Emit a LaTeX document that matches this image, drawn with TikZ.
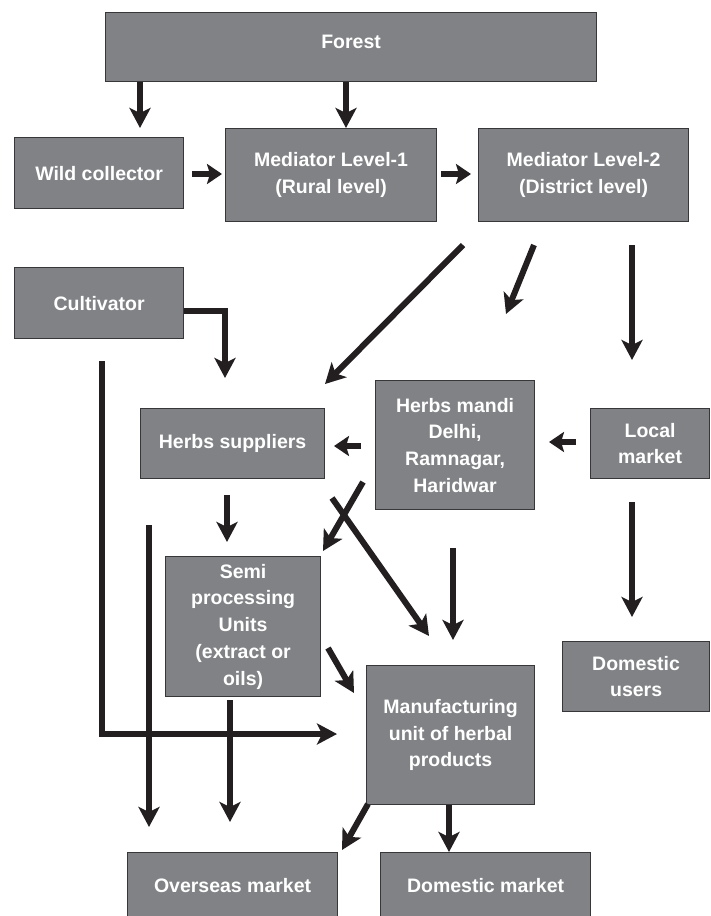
\documentclass[tikz,border=0pt]{standalone}
\usepackage{fontspec}
\setmainfont{Liberation Sans}
\usetikzlibrary{arrows.meta}
\definecolor{boxgray}{RGB}{128,130,133}
\definecolor{boxline}{RGB}{55,55,58}
\definecolor{ink}{RGB}{35,31,32}
\begin{document}
\begin{tikzpicture}[x=1pt,y=-1pt,
  box/.style={draw=boxline, line width=1.2pt, fill=boxgray, text=white,
    font=\bfseries\fontsize{19.5}{26.7}\selectfont, align=center,
    inner sep=0pt, anchor=north west},
  arr/.style={draw=ink, line width=6pt, line join=miter,
    -{Stealth[length=20pt,width=21pt,inset=5pt]}},
  sarr/.style={draw=ink, line width=6.5pt,
    -{Stealth[length=15pt,width=20pt,inset=3pt]}},
  ln/.style={draw=ink, line width=6pt}]
\useasboundingbox (0,0) rectangle (710,916);

% boxes
\node[box, minimum width=491pt, minimum height=69pt] (forest) at (105,12) {\raisebox{5.5pt}[\height][\depth]{Forest}};
\node[box, minimum width=169pt, minimum height=71pt] (wild) at (14,137) {Wild collector};
\node[box, minimum width=211pt, minimum height=93pt] (med1) at (225,128) {Mediator Level-1\\(Rural level)};
\node[box, minimum width=210pt, minimum height=93pt] (med2) at (478,128) {Mediator Level-2\\(District level)};
\node[box, minimum width=169pt, minimum height=71pt] (cult) at (14,267) {Cultivator};
\node[box, minimum width=184pt, minimum height=70pt] (hs) at (140,408) {Herbs suppliers};
\node[box, minimum width=159pt, minimum height=129pt] (hm) at (375,380) {Herbs mandi\\Delhi,\\Ramnagar,\\Haridwar};
\node[box, minimum width=119pt, minimum height=70pt] (lm) at (590,408) {Local\\market};
\node[box, minimum width=155pt, minimum height=140pt] (semi) at (165,556) {Semi\\processing\\Units\\(extract or\\oils)};
\node[box, minimum width=168pt, minimum height=139pt] (manuf) at (366,665) {Manufacturing\\unit of herbal\\products};
\node[box, minimum width=147pt, minimum height=70pt] (du) at (562,641) {Domestic\\users};
\node[box, minimum width=210pt, minimum height=66pt] (om) at (127,852) {Overseas market};
\node[box, minimum width=210pt, minimum height=66pt] (dm) at (380,852) {Domestic market};

% free ends of connectors
\coordinate (a1) at (140,128);
\coordinate (m2a) at (463,245);
\coordinate (m2aE) at (325,384);
\coordinate (m2b) at (534,245);
\coordinate (m2bE) at (506,314);
\coordinate (m2c) at (632,245);
\coordinate (m2cE) at (632,360);
\coordinate (cuE) at (225,378);
\coordinate (cl1) at (102,361);
\coordinate (cl2) at (102,734);
\coordinate (clE) at (337,734);
\coordinate (hsS) at (227,495);
\coordinate (hsE) at (227,542);
\coordinate (v1) at (149,525);
\coordinate (v1E) at (149,827);
\coordinate (hmA) at (363,482);
\coordinate (hmAE) at (323,551);
\coordinate (hmB) at (332,498);
\coordinate (hmBE) at (429,636);
\coordinate (v2) at (453,548);
\coordinate (v2E) at (453,640);
\coordinate (lmS) at (632,502);
\coordinate (lmE) at (632,617);
\coordinate (smA) at (328,648);
\coordinate (smAE) at (354,693);
\coordinate (smS) at (230,700);
\coordinate (smE) at (230,822);
\coordinate (mfA) at (368,804);
\coordinate (mfAE) at (342,850);

% connectors
\draw[arr] (forest.south -| a1) -- (a1);
\draw[arr] (forest.south -| 346,0) -- (med1.north -| 346,0);
\draw[sarr] (192,174) -- (222,174);
\draw[sarr] (441,174) -- (471,174);
\draw[arr] (m2a) -- (m2aE);
\draw[arr] (m2b) -- (m2bE);
\draw[arr] (m2c) -- (m2cE);
\draw[arr] (cult.east |- 0,311) -| (cuE);
\draw[arr] (cl1) -- (cl2) -- (clE);
\draw[sarr] (576,442) -- (549,442);
\draw[sarr] (361,446) -- (334,446);
\draw[arr] (hsS) -- (hsE);
\draw[arr] (v1) -- (v1E);
\draw[arr] (hmA) -- (hmAE);
\draw[arr] (hmB) -- (hmBE);
\draw[arr] (v2) -- (v2E);
\draw[arr] (lmS) -- (lmE);
\draw[arr] (smA) -- (smAE);
\draw[arr] (smS) -- (smE);
\draw[arr] (mfA) -- (mfAE);
\draw[arr] (manuf.south -| 449,0) -- (dm.north -| 449,0);
\end{tikzpicture}
\end{document}
